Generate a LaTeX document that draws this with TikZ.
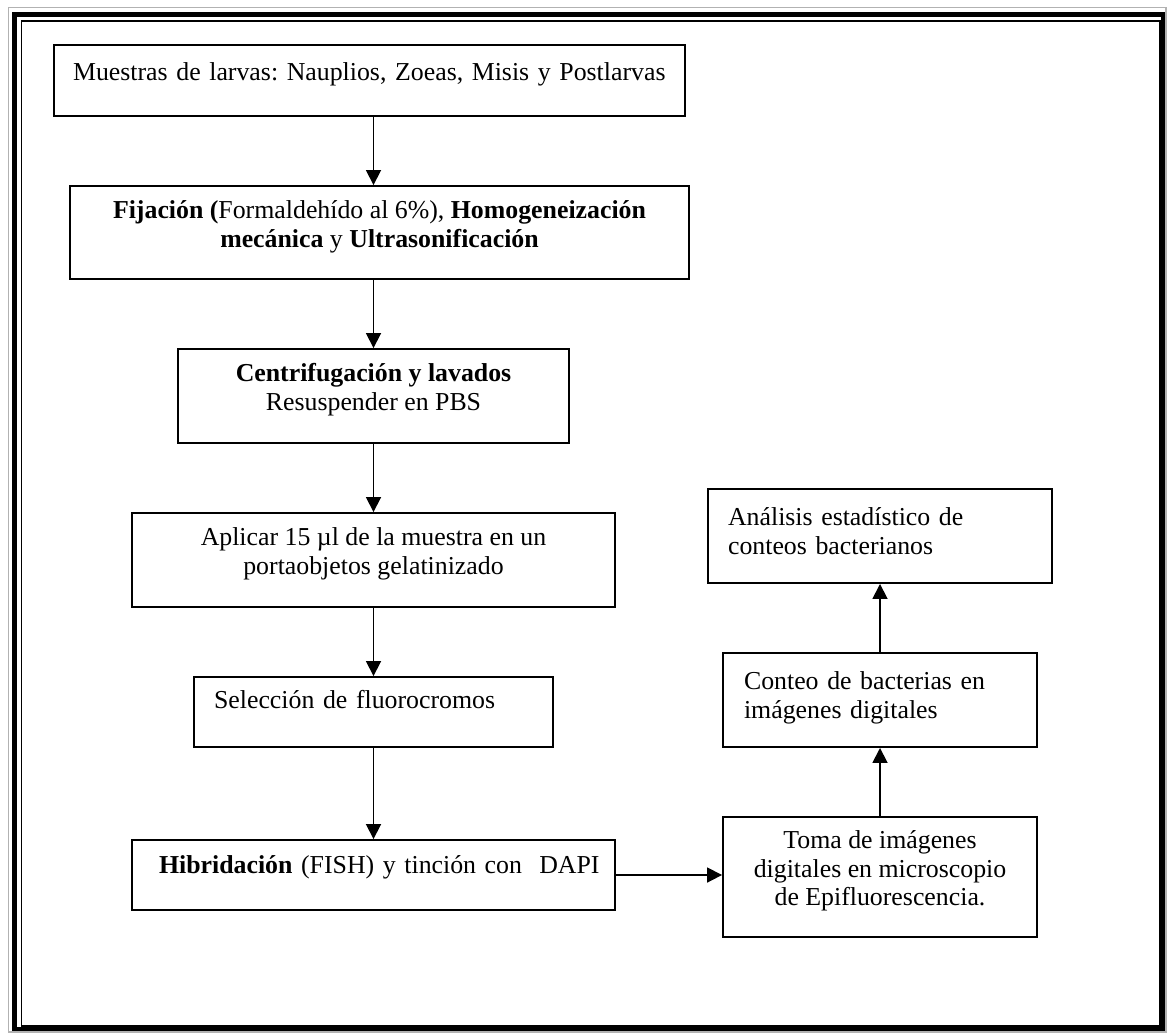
\documentclass[tikz,border=0pt]{standalone}
\usepackage{fontspec}
\setmainfont{Liberation Serif}
\usetikzlibrary{arrows.meta, positioning}
\frenchspacing

\begin{document}
\begin{tikzpicture}[
    x=0.02cm, y=-0.02cm,
    box/.style={draw, rectangle, line width=1.1pt, align=center, inner sep=0pt,
      font=\fontsize{14.7}{16.3}\selectfont},
    twoline/.style={box, text depth=10pt},
    leftbox/.style={box, align=left, inner xsep=#1},
    arrow/.style={line width=1pt, -{Triangle[width=8.5pt, length=8.5pt]}}
]
\useasboundingbox (0,0) rectangle (1169,1035);

% page border
\draw[gray!60, line width=0.8pt] (8.5,7.5) rectangle (1166,1032);
\draw[line width=2.8pt] (14.5,14.5) rectangle (1163,1029);
\draw[line width=1.1pt] (21.5,21) rectangle (1160,1026);

% left column
\node[leftbox=0.38cm, minimum width=12.62cm, minimum height=1.42cm, text width=11.86cm] (muestras) at (369.5,80.5)
  {\raisebox{0cm}[0pt][0pt]{Muestras de larvas: Nauplios, Zoeas, Misis y Postlarvas}};
\node[twoline, minimum width=12.38cm, minimum height=1.86cm] (fijacion) at (379.5,232.5)
  {\textbf{Fijación (}Formaldehído al 6\%), \textbf{Homogeneización}\\
   \textbf{mecánica} y \textbf{Ultrasonificación}};
\node[twoline, minimum width=7.82cm, minimum height=1.88cm] (centrif) at (373.5,396)
  {\textbf{Centrifugación y lavados}\\Resuspender en PBS};
\node[twoline, minimum width=9.66cm, minimum height=1.88cm] (aplicar) at (373.5,560)
  {Aplicar 15 µl de la muestra en un\\portaobjetos gelatinizado};
\node[leftbox=0.4cm, minimum width=7.18cm, minimum height=1.4cm, text width=6.38cm] (seleccion) at (373.5,712)
  {\raisebox{0.08cm}[0pt][0pt]{Selección de fluorocromos}};
\node[leftbox=0.54cm, minimum width=9.66cm, minimum height=1.4cm, text width=8.58cm] (hibrid) at (373.5,875)
  {\raisebox{0.04cm}[0pt][0pt]{\textbf{Hibridación} (FISH) y tinción con\ \ DAPI}};

% right column
\node[twoline, minimum width=6.28cm, minimum height=2.4cm] (toma) at (880,877)
  {Toma de imágenes\\digitales en microscopio\\de Epifluorescencia.};
\node[leftbox=0.42cm, text depth=22pt, minimum width=6.28cm, minimum height=1.88cm, text width=5.44cm] (conteo) at (880,700)
  {Conteo de bacterias en\\imágenes digitales};
\node[leftbox=0.4cm, text depth=22pt, minimum width=6.88cm, minimum height=1.88cm, text width=6.08cm] (analisis) at (880,536)
  {Análisis estadístico de\\conteos bacterianos};

\coordinate (col) at (373.5,0);

\draw[arrow] (muestras.south -| col) -- (fijacion.north -| col);
\draw[arrow] (fijacion.south -| col) -- (centrif.north -| col);
\draw[arrow] (centrif.south -| col) -- (aplicar.north -| col);
\draw[arrow] (aplicar.south -| col) -- (seleccion.north -| col);
\draw[arrow] (seleccion.south -| col) -- (hibrid.north -| col);
\draw[arrow] (hibrid.east) -- (hibrid.east -| toma.west);
\draw[arrow] (toma) -- (conteo);
\draw[arrow] (conteo) -- (analisis);
\end{tikzpicture}
\end{document}
